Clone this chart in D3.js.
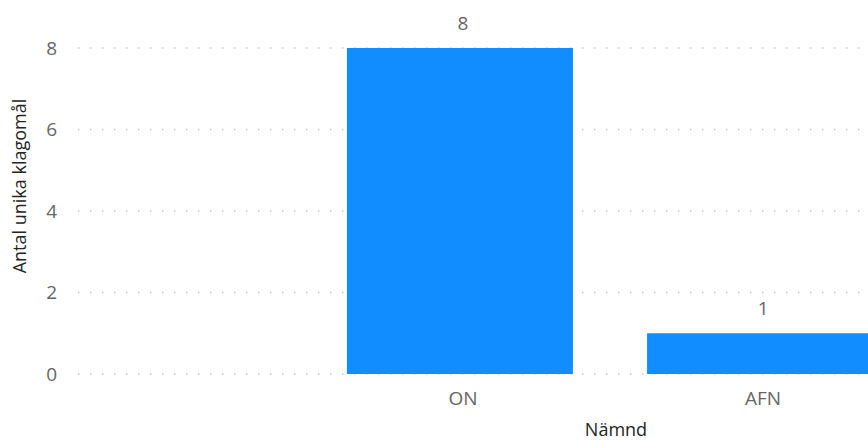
<!DOCTYPE html>
<html>
<head>
<meta charset="utf-8">
<script src="https://cdn.jsdelivr.net/npm/d3@7"></script>
<style>
  body { margin: 0; background: #fff; }
  svg { display: block; }
  text { font-family: "Open Sans", "DejaVu Sans", sans-serif; }
</style>
</head>
<body>
<script>
// chart data
const categories = ["ON", "AFN"];
const values = [8, 1];
const yTicks = [0, 2, 4, 6, 8];

const width = 868;
const height = 441;

const svg = d3.select("body")
    .append("svg")
    .attr("width", width)
    .attr("height", height);

const x = d3.scaleBand()
    .domain(categories)
    .range([310, 910])
    .paddingInner(0.247)
    .paddingOuter(0.123);

const y = d3.scaleLinear()
    .domain([0, 8])
    .range([374, 48]);

// dotted gridlines
svg.append("g")
    .selectAll("line")
    .data(yTicks)
    .enter().append("line")
    .attr("x1", 78)
    .attr("x2", width)
    .attr("y1", d => y(d))
    .attr("y2", d => y(d))
    .attr("stroke", "#c8c8c8")
    .attr("stroke-width", 1.5)
    .attr("stroke-dasharray", "1.5,10.5");

// y tick labels
svg.append("g")
    .selectAll("text")
    .data(yTicks)
    .enter().append("text")
    .attr("x", 57)
    .attr("y", d => y(d))
    .attr("dy", "0.35em")
    .attr("text-anchor", "end")
    .attr("fill", "#666666")
    .style("font-size", "19px")
    .text(d => d);

// bars
svg.append("g")
    .selectAll("rect")
    .data(values)
    .enter().append("rect")
    .attr("x", (d, i) => x(categories[i]))
    .attr("width", x.bandwidth())
    .attr("y", d => y(d))
    .attr("height", d => y(0) - y(d))
    .attr("fill", "#118dff");

// value labels
svg.append("g")
    .selectAll("text")
    .data(values)
    .enter().append("text")
    .attr("x", (d, i) => x(categories[i]) + x.bandwidth() / 2 + 3)
    .attr("y", d => y(d) - 25)
    .attr("dy", "0.35em")
    .attr("text-anchor", "middle")
    .attr("fill", "#666666")
    .style("font-size", "19px")
    .text(d => d);

// x category labels
svg.append("g")
    .selectAll("text")
    .data(categories)
    .enter().append("text")
    .attr("x", d => x(d) + x.bandwidth() / 2 + 3)
    .attr("y", 398)
    .attr("dy", "0.35em")
    .attr("text-anchor", "middle")
    .attr("fill", "#666666")
    .style("font-size", "19px")
    .text(d => d);

// x axis title
svg.append("text")
    .attr("x", 616)
    .attr("y", 430)
    .attr("dy", "0.35em")
    .attr("text-anchor", "middle")
    .attr("fill", "#252423")
    .style("font-size", "18px")
    .text("Nämnd");

// y axis title
svg.append("text")
    .attr("transform", "translate(20," + 186 + ") rotate(-90)")
    .attr("dy", "0.35em")
    .attr("text-anchor", "middle")
    .attr("fill", "#252423")
    .style("font-size", "18px")
    .text("Antal unika klagomål");
</script>
</body>
</html>
